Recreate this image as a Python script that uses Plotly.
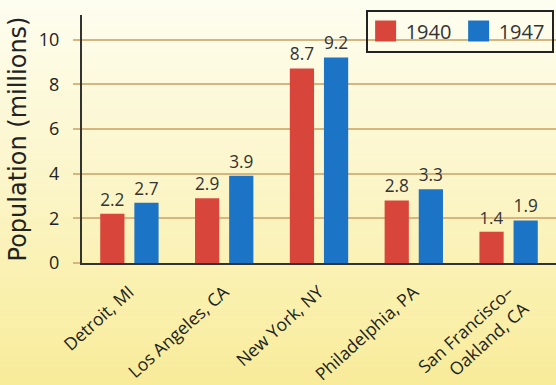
import plotly.graph_objects as go

cities = ["Detroit, MI", "Los Angeles, CA", "New York, NY", "Philadelphia, PA", "San Francisco–<br>Oakland, CA"]
pop_1940 = [2.2, 2.9, 8.7, 2.8, 1.4]
pop_1947 = [2.7, 3.9, 9.2, 3.3, 1.9]
series_names = ["1940", "1947"]
series_colors = ["#d8463b", "#1c74c6"]
y_ticks = [0, 2, 4, 6, 8, 10]

FONT = "Open Sans"

fig = go.Figure()
for name, vals, col in zip(series_names, [pop_1940, pop_1947], series_colors):
    fig.add_trace(go.Bar(
        x=cities, y=vals, name=name, showlegend=False, legendgroup=name,
        marker=dict(color=col, line=dict(width=0)),
        text=[f"{v:.1f}" for v in vals], textposition="outside",
        textfont=dict(size=20, color="#333333", family=FONT), cliponaxis=False,
    ))
# legend entries with larger swatches
for name, col in zip(series_names, series_colors):
    fig.add_trace(go.Scatter(
        x=[cities[0]], y=[None], name=name, legendgroup=name, mode="markers",
        marker=dict(symbol="square", size=16, color=col, line=dict(color=col, width=5)),
        hoverinfo="skip",
    ))

# background gradient (decoration)
shapes = []
n = 40
top = (254, 254, 242)
bot = (248, 236, 154)
for i in range(n):
    t = i / (n - 1)
    c = tuple(int(round(top[k] + (bot[k] - top[k]) * t)) for k in range(3))
    shapes.append(dict(type="rect", xref="paper", yref="paper",
                       x0=-1, x1=2, y0=1.1 - (i + 1) * (1.6 / n), y1=1.1 - i * (1.6 / n) + 0.001,
                       fillcolor="rgb(%d,%d,%d)" % c, line=dict(width=0), layer="below"))

fig.update_layout(
    width=556, height=385,
    margin=dict(l=82, r=0, t=15, b=122),
    paper_bgcolor="#fdfcec",
    plot_bgcolor="rgba(0,0,0,0)",
    shapes=shapes,
    barmode="group", bargap=0.28, bargroupgap=0.29,
    font=dict(family=FONT, color="#333333"),
    legend=dict(orientation="h", x=0.995, xanchor="right", y=1.022, yanchor="top",
                bordercolor="#222222", borderwidth=2, bgcolor="rgba(0,0,0,0)",
                font=dict(size=20, color="#333333", family=FONT),
                itemwidth=30, entrywidthmode="pixels", entrywidth=48),
    xaxis=dict(showline=True, linecolor="#333333", linewidth=2, tickangle=-42,
               tickfont=dict(size=17.5, color="#222222", family=FONT),
               ticks="outside", ticklen=4, tickcolor="rgba(0,0,0,0)",
               ticklabelstandoff=6, showgrid=False, automargin=False),
    yaxis=dict(range=[0, 11.1], tickvals=y_ticks, showgrid=True, gridcolor="#d6b57e",
               gridwidth=2, showline=True, linecolor="#333333", linewidth=2,
               ticks="outside", ticklen=7, tickcolor="#d6b57e", tickwidth=2,
               ticklabelstandoff=10, automargin=False,
               tickfont=dict(size=18, color="#222222", family=FONT), zeroline=False,
               title=dict(text="Population (millions)", font=dict(size=24, color="#222222", family="DejaVu Sans"), standoff=5)),
)

fig.write_html("out.html")
